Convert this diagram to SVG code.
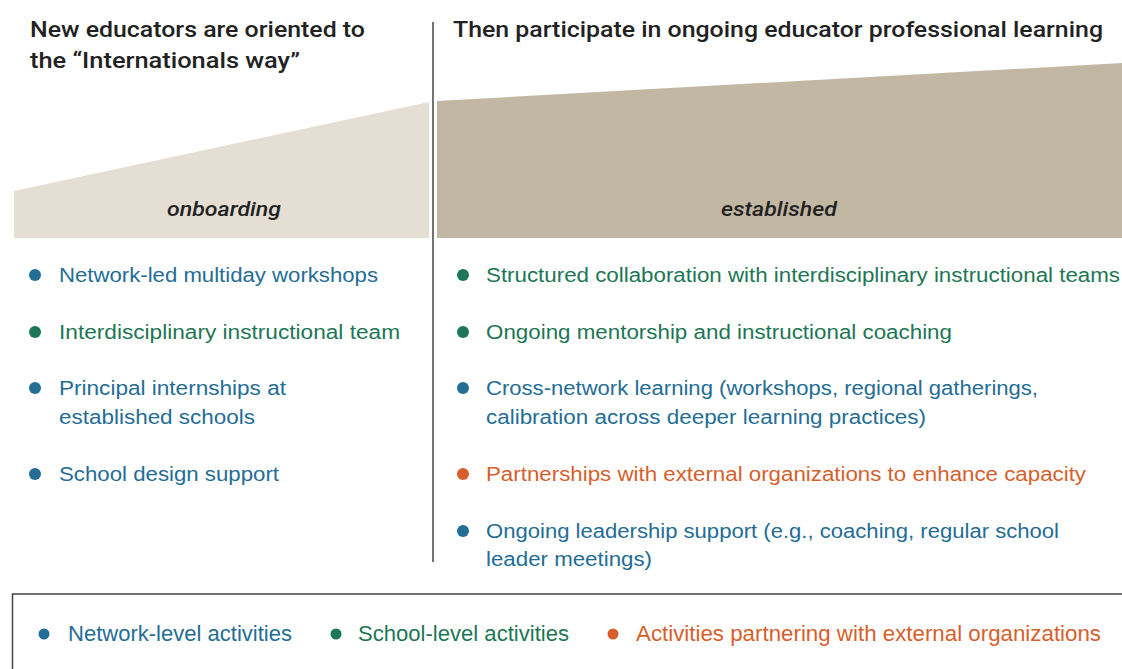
<svg xmlns="http://www.w3.org/2000/svg" width="1122" height="669" viewBox="0 0 1122 669">
<style>
.h{font-family:"Roboto","Liberation Sans",sans-serif;font-weight:500;font-size:22px;fill:#222}
.lab{font-family:"Roboto","Liberation Sans",Arial,sans-serif;font-style:italic;font-weight:500;font-size:20px;fill:#222;text-anchor:middle}
.t{font-family:"Liberation Sans",Arial,sans-serif;font-size:20px}
.lg{font-family:"Liberation Sans",Arial,sans-serif;font-size:22px}
.b{fill:#246d94}.g{fill:#1d7655}.o{fill:#d65f2c}
</style>
<g id="headers">
<text class="h" x="30" y="37" textLength="335" lengthAdjust="spacingAndGlyphs">New educators are oriented to</text>
<text class="h" x="30" y="68" textLength="270" lengthAdjust="spacingAndGlyphs">the “Internationals way”</text>
<text class="h" x="453" y="37" textLength="650" lengthAdjust="spacingAndGlyphs">Then participate in ongoing educator professional learning</text>
</g>
<g id="onboarding">
<polygon points="14,191 429,102 429,238 14,238" fill="#e5dfd3"/>
<text class="lab" x="224" y="216" textLength="114" lengthAdjust="spacingAndGlyphs">onboarding</text>
</g>
<g id="established">
<polygon points="437,101 1122,63 1122,238 437,238" fill="#c2b7a3"/>
<text class="lab" x="779" y="216" textLength="116" lengthAdjust="spacingAndGlyphs">established</text>
</g>
<line x1="433" y1="22" x2="433" y2="562" stroke="#444" stroke-width="1.5"/>
<g id="left-list">
<circle class="b" cx="35" cy="275" r="6"/><text class="t b" x="59" y="282" textLength="319" lengthAdjust="spacingAndGlyphs">Network-led multiday workshops</text>
<circle class="g" cx="35" cy="332" r="6"/><text class="t g" x="59" y="339" textLength="341" lengthAdjust="spacingAndGlyphs">Interdisciplinary instructional team</text>
<circle class="b" cx="35" cy="388" r="6"/><text class="t b" x="59" y="395" textLength="227" lengthAdjust="spacingAndGlyphs">Principal internships at</text>
<text class="t b" x="59" y="424" textLength="196" lengthAdjust="spacingAndGlyphs">established schools</text>
<circle class="b" cx="35" cy="474" r="6"/><text class="t b" x="59" y="481" textLength="220" lengthAdjust="spacingAndGlyphs">School design support</text>
</g>
<g id="right-list">
<circle class="g" cx="463" cy="275" r="6"/><text class="t g" x="486" y="282" textLength="634" lengthAdjust="spacingAndGlyphs">Structured collaboration with interdisciplinary instructional teams</text>
<circle class="g" cx="463" cy="332" r="6"/><text class="t g" x="486" y="339" textLength="466" lengthAdjust="spacingAndGlyphs">Ongoing mentorship and instructional coaching</text>
<circle class="b" cx="463" cy="388" r="6"/><text class="t b" x="486" y="395" textLength="552" lengthAdjust="spacingAndGlyphs">Cross-network learning (workshops, regional gatherings,</text>
<text class="t b" x="486" y="424" textLength="440" lengthAdjust="spacingAndGlyphs">calibration across deeper learning practices)</text>
<circle class="o" cx="463" cy="474" r="6"/><text class="t o" x="486" y="481" textLength="600" lengthAdjust="spacingAndGlyphs">Partnerships with external organizations to enhance capacity</text>
<circle class="b" cx="463" cy="531" r="6"/><text class="t b" x="486" y="538" textLength="573" lengthAdjust="spacingAndGlyphs">Ongoing leadership support (e.g., coaching, regular school</text>
<text class="t b" x="486" y="566" textLength="166" lengthAdjust="spacingAndGlyphs">leader meetings)</text>
</g>
<g id="legend">
<path d="M1122,594 H12.5 V669" fill="none" stroke="#444" stroke-width="1.5"/>
<circle class="b" cx="44" cy="634" r="5.5"/><text class="lg b" x="68" y="641" textLength="224" lengthAdjust="spacingAndGlyphs">Network-level activities</text>
<circle class="g" cx="336" cy="634" r="5.5"/><text class="lg g" x="358" y="641" textLength="211" lengthAdjust="spacingAndGlyphs">School-level activities</text>
<circle class="o" cx="613" cy="634" r="5.5"/><text class="lg o" x="636" y="641" textLength="465" lengthAdjust="spacingAndGlyphs">Activities partnering with external organizations</text>
</g>
</svg>
